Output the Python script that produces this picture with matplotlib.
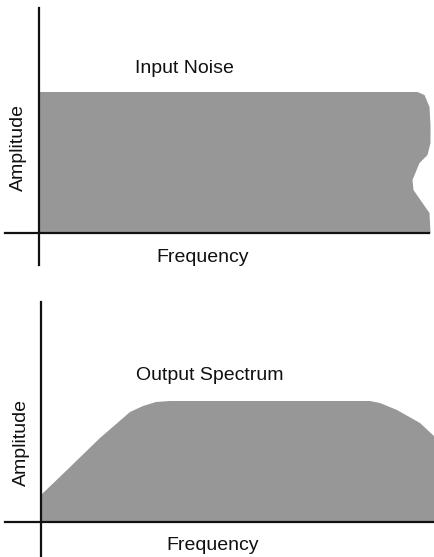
import matplotlib
matplotlib.use("Agg")
import matplotlib.pyplot as plt

W, H = 435, 557

# Data (arbitrary units, origin at axes crossing)
noise_freq = [0, 0, 378, 385, 390, 391, 391, 388, 380, 373, 374, 383, 390, 391]
noise_amp = [0, 141, 141, 138, 126, 108, 90, 78, 70, 53, 43, 30, 20, 0]

out_freq = [0, 0, 26, 59, 89, 102, 115, 129, 329, 339, 356, 379, 394, 394]
out_amp = [0, 27, 52, 84, 110, 116, 120, 121, 121, 119, 112, 99, 85, 0]

titles = ["Input Noise", "Output Spectrum"]
xlabel = "Frequency"
ylabel = "Amplitude"

plt.rcParams['font.family'] = ['Liberation Sans', 'DejaVu Sans']

fig = plt.figure(figsize=(W / 100, H / 100), dpi=100)
fig.patch.set_facecolor('white')


def px_rect(left, right, top, bottom):
    return [left / W, (H - bottom) / H, (right - left) / W, (bottom - top) / H]


def setup(ax, xlim, ylim, xb, yb):
    ax.set_xlim(*xlim)
    ax.set_ylim(*ylim)
    ax.patch.set_alpha(0)
    for s in ['top', 'right']:
        ax.spines[s].set_visible(False)
    ax.spines['left'].set_position(('data', 0))
    ax.spines['bottom'].set_position(('data', 0))
    ax.spines['bottom'].set_bounds(*xb)
    ax.spines['left'].set_bounds(*yb)
    for s in ['left', 'bottom']:
        ax.spines[s].set_linewidth(1.6)
        ax.spines[s].set_color('#111111')
        ax.spines[s].set_zorder(5)
    ax.set_xticks([])
    ax.set_yticks([])


FILL = '#979797'

ax1 = fig.add_axes(px_rect(5, 435, 8, 265))
setup(ax1, (-34.5, 395.5), (-32, 225), (-34.5, 389.5), (-32, 225))
ax1.fill(noise_freq, noise_amp, facecolor=FILL, edgecolor='none', zorder=2)

ax2 = fig.add_axes(px_rect(5, 435, 302, 557))
setup(ax2, (-36, 394), (-35, 220), (-36, 394), (-35, 220))
ax2.fill(out_freq, out_amp, facecolor=FILL, edgecolor='none', zorder=2)


def ftext(x, y, s, **kw):
    fig.text(x / W, 1 - y / H, s, ha='center', va='center', fontsize=14,
             color='#111111', **kw)


ftext(184, 68, titles[0])
ftext(202.5, 257, xlabel)
ftext(18, 147.5, ylabel, rotation=90)

ftext(210, 375, titles[1])
ftext(212.5, 545, xlabel)
ftext(21.5, 442, ylabel, rotation=90)

fig.savefig('out.png', dpi=100, facecolor='white')
